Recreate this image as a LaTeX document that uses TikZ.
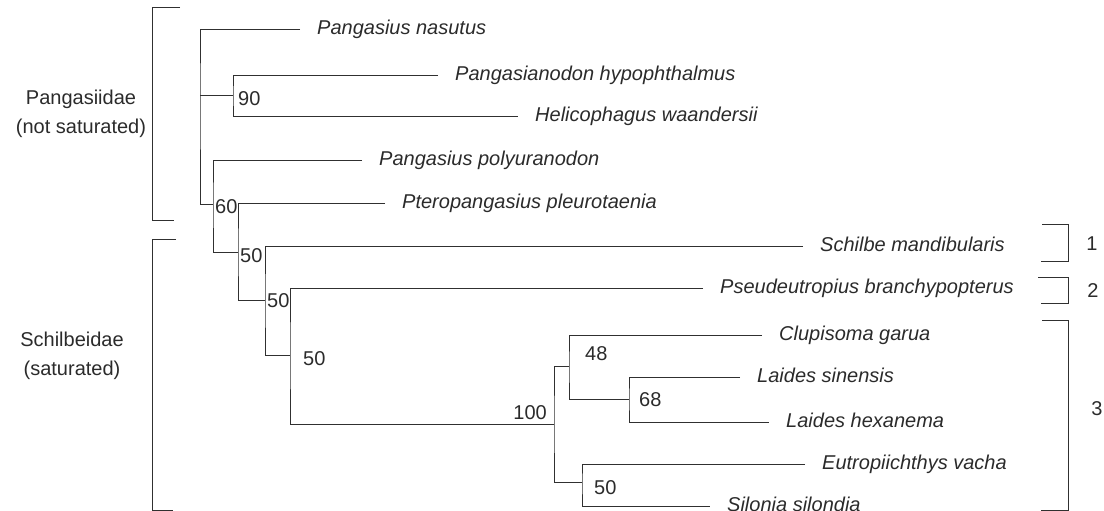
\documentclass[tikz,border=0pt]{standalone}
\usepackage{fontspec}
\setmainfont{Liberation Sans}
\definecolor{Ink}{HTML}{2B2B2B}
\definecolor{Branch}{HTML}{303030}
\tikzset{
  branch/.style={draw=Branch,line width=1pt},
  clamp/.style={draw=Branch,line width=1pt},
  taxon/.style={anchor=west,inner xsep=17pt,inner ysep=0pt,text height=14pt,text depth=4pt,text=Ink,font=\fontsize{20}{24}\selectfont\itshape},
  support/.style={anchor=west,inner sep=0pt,text height=14.3pt,text depth=0pt,text=Ink,font=\fontsize{20}{24}\selectfont},
  family/.style={align=center,inner sep=0pt,text=Ink,font=\fontsize{20}{29}\selectfont},
  lineage/.style={inner sep=0pt,text height=14.3pt,text depth=0pt,text=Ink,font=\fontsize{20}{24}\selectfont}
}

\begin{document}
\begin{tikzpicture}[x=1pt,y=-1pt]
  \useasboundingbox (0,0) rectangle (1104,511);

  % leaves
  \node[taxon] (nas) at (300,30) {Pangasius nasutus};
  \node[taxon] (hyp) at (438,76) {Pangasianodon hypophthalmus};
  \node[taxon] (wan) at (518,116.5) {Helicophagus waandersii};
  \node[taxon] (pol) at (362,160) {Pangasius polyuranodon};
  \node[taxon] (ple) at (385,203.3) {Pteropangasius pleurotaenia};
  \node[taxon] (man) at (803,246) {Schilbe mandibularis};
  \node[taxon] (bra) at (703,288.5) {Pseudeutropius branchypopterus};
  \node[taxon] (gar) at (762,335) {Clupisoma garua};
  \node[taxon] (sin) at (740,377) {Laides sinensis};
  \node[taxon] (hex) at (769,422) {Laides hexanema};
  \node[taxon] (vac) at (805,464) {Eutropiichthys vacha};
  \node[taxon] (sil) at (710,506) {Silonia silondia};

  % internal nodes
  \coordinate (n0) at (200,96);
  \coordinate (k90) at (233,96);
  \coordinate (k60) at (213,204);
  \coordinate (k50a) at (238,252.7);
  \coordinate (k50b) at (265,300.7);
  \coordinate (k50c) at (290,355);
  \coordinate (k100) at (554,424.3);
  \coordinate (k48) at (569,366.7);
  \coordinate (k68) at (629,399);
  \coordinate (k50d) at (582,482.3);

  \draw[branch] (nas.west) -| (n0) |- (k60);
  \draw[branch] (n0) -- (k90);
  \draw[branch] (hyp.west) -| (k90) |- (wan.west);
  \draw[branch] (pol.west) -| (k60) |- (k50a);
  \draw[branch] (ple.west) -| (k50a) |- (k50b);
  \draw[branch] (man.west) -| (k50b) |- (k50c);
  \draw[branch] (bra.west) -| (k50c) |- (k100);
  \draw[branch] (k48) -| (k100) |- (k50d);
  \draw[branch] (gar.west) -| (k48) |- (k68);
  \draw[branch] (sin.west) -| (k68) |- (hex.west);
  \draw[branch] (vac.west) -| (k50d) |- (sil.west);

  % bootstrap values
  \node[support] (s90) at (238,98.3) {90};
  \node[support] (s60) at (215,206) {60};
  \node[support] (s50a) at (240,255) {50};
  \node[support] (s50b) at (267,300) {50};
  \node[support] (s50c) at (303,358) {50};
  \node[support,anchor=east] (s100) at (547,412) {100};
  \node[support] (s48) at (585,353) {48};
  \node[support] (s68) at (639,399) {68};
  \node[support] (s50d) at (594,487) {50};

  % families
  \node[family] (pang) at (81,113.5) {Pangasiidae\\(not saturated)};
  \node[family] (schi) at (72,356) {Schilbeidae\\(saturated)};
  \draw[clamp] (180,8) -- (152,8) -- (152,220.5) -- (174,220.5);
  \draw[clamp] (176,239.5) -- (152,239.5) -- (152,510) -- (173,510);

  % lineages
  \draw[clamp] (1042,224) -- (1068,224) -- (1068,261.7) -- (1041,261.7);
  \draw[clamp] (1038,277) -- (1068,277) -- (1068,303) -- (1041,303);
  \draw[clamp] (1042,320) -- (1068,320) -- (1068,510) -- (1041,510);
  \node[lineage] (l1) at (1092,243) {1};
  \node[lineage] (l2) at (1093,290) {2};
  \node[lineage] (l3) at (1097,408) {3};
\end{tikzpicture}
\end{document}
